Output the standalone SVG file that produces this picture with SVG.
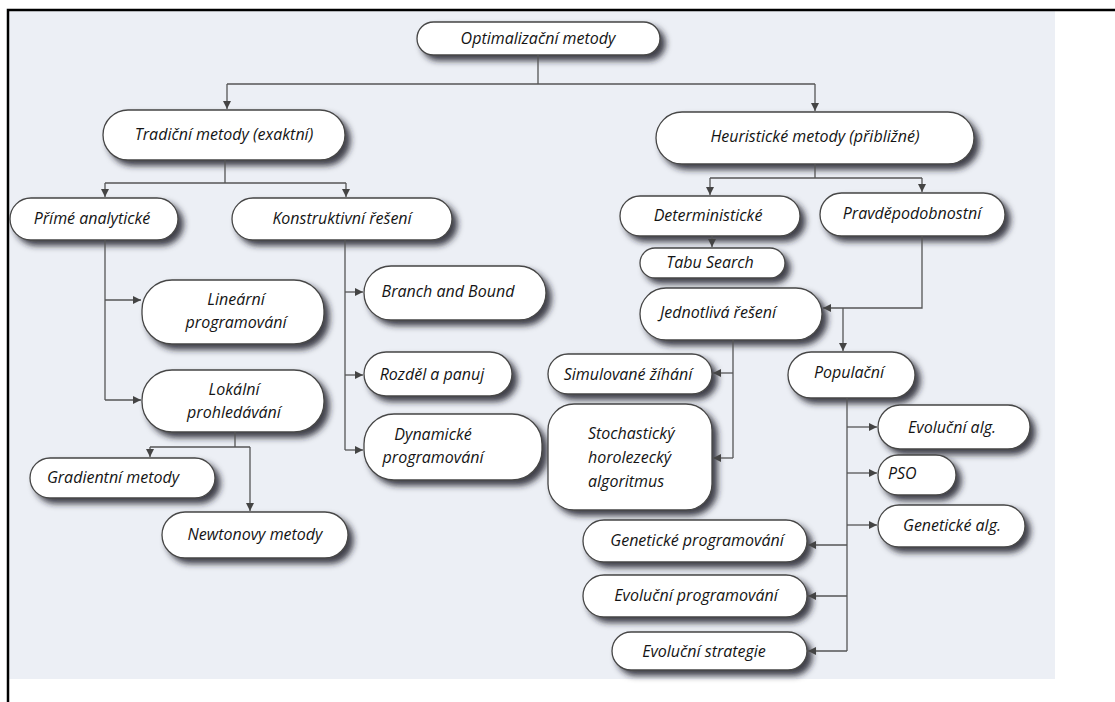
<svg xmlns="http://www.w3.org/2000/svg" width="1115" height="702" viewBox="0 0 1115 702">
<style>
.bg{fill:#eceff5}
.n rect{fill:#ffffff;stroke:#464646;stroke-width:1.3;filter:url(#sh)}
.n text{font-family:"Open Sans","Noto Sans","Liberation Sans",sans-serif;font-style:italic;font-size:16px;fill:#141414;text-anchor:middle}
.n text.l{text-anchor:start}
.c path{fill:none;stroke:#555;stroke-width:1.3}
.c path.a{marker-end:url(#ar)}
</style>
<defs>
<filter id="sh" x="-20%" y="-30%" width="150%" height="180%">
<feDropShadow dx="5" dy="5" stdDeviation="3" flood-color="#22222c" flood-opacity="0.85"/>
</filter>
<marker id="ar" markerUnits="userSpaceOnUse" markerWidth="8" markerHeight="8" refX="8" refY="4" orient="auto">
<path d="M0,0 L8,4 L0,8 z" fill="#444"/>
</marker>
</defs>
<rect width="1115" height="702" fill="#ffffff"/>
<rect class="bg" x="9" y="11" width="1046" height="668"/>
<path d="M8,702 V10 H1115" fill="none" stroke="#000" stroke-width="2.5"/>

<g id="opt" class="n"><rect x="417" y="22" width="243" height="33" rx="16.5"/><text x="538" y="44">Optimalizační metody</text></g>
<g id="trad" class="n"><rect x="103" y="110" width="242" height="50" rx="25"/><text x="224" y="140">Tradiční metody (exaktní)</text></g>
<g id="heur" class="n"><rect x="656" y="112" width="318" height="52" rx="26"/><text x="815" y="142">Heuristické metody (přibližné)</text></g>
<g id="prime" class="n"><rect x="10" y="198" width="168" height="42" rx="21"/><text x="92" y="224">Přímé analytické</text></g>
<g id="konst" class="n"><rect x="232" y="198" width="220" height="42" rx="21"/><text x="342" y="224">Konstruktivní řešení</text></g>
<g id="determ" class="n"><rect x="620" y="196" width="180" height="40" rx="20"/><text x="708" y="221">Deterministické</text></g>
<g id="pravd" class="n"><rect x="820" y="193" width="185" height="43" rx="21.5"/><text x="912" y="219">Pravděpodobnostní</text></g>
<g id="tabu" class="n"><rect x="640" y="248" width="145" height="30" rx="15"/><text x="710" y="268">Tabu Search</text></g>
<g id="jednotl" class="n"><rect x="640" y="288" width="182" height="52" rx="26"/><text x="718" y="318">Jednotlivá řešení</text></g>
<g id="linear" class="n"><rect x="142" y="280" width="182" height="64" rx="30"/><text x="236" y="305">Lineární</text><text x="236" y="328">programování</text></g>
<g id="lokal" class="n"><rect x="142" y="370" width="182" height="62" rx="30"/><text x="234" y="395">Lokální</text><text x="234" y="418">prohledávání</text></g>
<g id="branch" class="n"><rect x="364" y="266" width="182" height="54" rx="27"/><text x="448" y="297">Branch and Bound</text></g>
<g id="rozdel" class="n"><rect x="364" y="352" width="148" height="44" rx="22"/><text x="432" y="380">Rozděl a panuj</text></g>
<g id="dyn" class="n"><rect x="364" y="414" width="178" height="66" rx="30"/><text x="433" y="440">Dynamické</text><text x="433" y="463">programování</text></g>
<g id="simul" class="n"><rect x="548" y="354" width="164" height="40" rx="20"/><text x="628" y="380">Simulované žíhání</text></g>
<g id="stoch" class="n"><rect x="548" y="404" width="164" height="106" rx="26"/><text class="l" x="588" y="439">Stochastický</text><text class="l" x="588" y="463">horolezecký</text><text class="l" x="588" y="487">algoritmus</text></g>
<g id="popul" class="n"><rect x="788" y="352" width="127" height="46" rx="23"/><text x="849" y="378">Populační</text></g>
<g id="evolalg" class="n"><rect x="878" y="405" width="152" height="44" rx="22"/><text x="952" y="433">Evoluční alg.</text></g>
<g id="pso" class="n"><rect x="878" y="455" width="78" height="40" rx="20"/><text class="l" x="888" y="479">PSO</text></g>
<g id="genalg" class="n"><rect x="878" y="505" width="147" height="42" rx="21"/><text x="952" y="531">Genetické alg.</text></g>
<g id="genprog" class="n"><rect x="583" y="520" width="224" height="42" rx="21"/><text x="697" y="546">Genetické programování</text></g>
<g id="evolprog" class="n"><rect x="583" y="575" width="224" height="42" rx="21"/><text x="696" y="601">Evoluční programování</text></g>
<g id="evolstrat" class="n"><rect x="612" y="632" width="195" height="38" rx="19"/><text x="704" y="657">Evoluční strategie</text></g>
<g id="grad" class="n"><rect x="30" y="458" width="185" height="40" rx="20"/><text x="113" y="483">Gradientní metody</text></g>
<g id="newton" class="n"><rect x="162" y="512" width="186" height="46" rx="23"/><text x="255" y="540">Newtonovy metody</text></g>

<g id="connectors" class="c">
<path d="M538,55 V84 M227,84 H815"/>
<path class="a" d="M227,84 V109"/>
<path class="a" d="M815,84 V111"/>
<path d="M225,160 V183 M105,183 H346"/>
<path class="a" d="M105,183 V197"/>
<path class="a" d="M346,183 V197"/>
<path d="M815,164 V178 M710,178 H922"/>
<path class="a" d="M710,178 V195"/>
<path class="a" d="M922,178 V192"/>
<path class="a" d="M712,236 V247"/>
<path class="a" d="M922,236 V308 H823"/>
<path class="a" d="M843,308 V351"/>
<path d="M733,340 V458"/>
<path class="a" d="M733,373 H713"/>
<path class="a" d="M733,458 H713"/>
<path d="M847,398 V651"/>
<path class="a" d="M847,427 H877"/>
<path class="a" d="M847,473 H877"/>
<path class="a" d="M847,525 H877"/>
<path class="a" d="M847,545 H808"/>
<path class="a" d="M847,596 H808"/>
<path class="a" d="M847,651 H808"/>
<path d="M105,240 V400"/>
<path class="a" d="M105,300 H141"/>
<path class="a" d="M105,400 H141"/>
<path d="M345,240 V450"/>
<path class="a" d="M345,292 H363"/>
<path class="a" d="M345,375 H363"/>
<path class="a" d="M345,450 H363"/>
<path d="M235,432 V447 M150,447 H250"/>
<path class="a" d="M150,447 V457"/>
<path class="a" d="M250,447 V511"/>
</g>
</svg>
